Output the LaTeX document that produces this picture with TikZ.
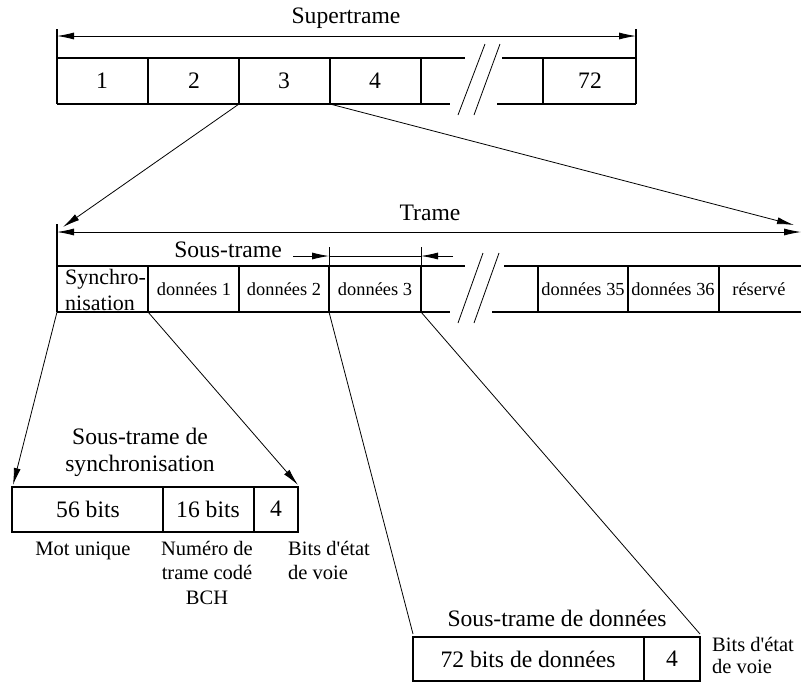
\documentclass[tikz,border=0pt]{standalone}
\usepackage{fontspec}
\setmainfont{Liberation Serif}
\usetikzlibrary{arrows.meta}
\begin{document}
\begin{tikzpicture}[x=1pt,y=-1pt,
		cadre/.style={line width=1.1pt},
		separ/.style={line width=1.7pt},
		lien/.style={line width=0.8pt},
		fleche/.style={-{Latex[length=17pt,width=7pt]},line width=0.8pt},
		dfleche/.style={{Latex[length=17pt,width=7pt]}-{Latex[length=17pt,width=7pt]},line width=0.8pt},
		grand/.style={inner sep=0pt,font=\fontsize{23.6}{27}\selectfont},
		petit/.style={inner sep=0pt,font=\fontsize{18.4}{20}\selectfont}]
			\useasboundingbox (0,0) rectangle (801,683);
			\clip (0,0) rectangle (801,683);
			%Supertrame
			\node[grand] (Sup) at (346,18) {Supertrame};
			\coordinate (SupG) at (57,36);
			\coordinate (SupD) at (636,36);
			\draw[dfleche] (SupG)--(SupD);
			\draw[cadre] (57,29)--(57,104);
			\draw[cadre] (636,29)--(636,104);
			\draw[cadre] (57,58)--(465,58) (502,58)--(636,58);
			\draw[cadre] (57,104)--(450,104) (497,104)--(636,104);
			\foreach \x in {148,239,330,421,543}
				\draw[separ] (\x,58)--(\x,104);
			\draw[lien] (485,44)--(458,115);
			\draw[lien] (500,44)--(474,115);
			\foreach \x/\lab [count=\i] in {102/1,194/2,284/3,375/4,590/72}
				\node[grand] (S\i) at (\x,81) {\lab};
			\coordinate (S3g) at (239,104);
			\coordinate (S3d) at (330,104);
			%Trame
			\node[grand] (Tr) at (430,213) {Trame};
			\coordinate (TrG) at (57,232);
			\coordinate (TrD) at (801,232);
			\draw[dfleche] (TrG)--(TrD);
			\draw[cadre] (57,224)--(57,312);
			\draw[cadre] (57,266)--(465,266) (504,266)--(801,266);
			\draw[cadre] (57,312)--(450,312) (492,312)--(801,312);
			\foreach \x in {148,239,329,421,538,628,719}
				\draw[separ] (\x,266)--(\x,312);
			\draw[lien] (483,253)--(458,323);
			\draw[lien] (499,253)--(474,323);
			\node[grand,align=left,anchor=west,font=\fontsize{22}{26}\selectfont] (T0) at (65,290) {Synchro-\\nisation};
			\foreach \x/\lab [count=\i] in {194/données 1,284/données 2,375/données 3,583/données 35,673/données 36,759/réservé}
				\node[petit] (T\i) at (\x,289) {\lab};
			\coordinate (TrA) at (63,227);
			\coordinate (TrB) at (794,225);
			\draw[fleche] (S3g)--(TrA);
			\draw[fleche] (S3d)--(TrB);
			%Sous-trame
			\node[grand] (ST) at (228,250) {Sous-trame};
			\coordinate (STa) at (293,256);
			\coordinate (STg) at (329,256);
			\coordinate (STd) at (421,256);
			\coordinate (STb) at (453,256);
			\draw[lien] (329,247)--(329,266);
			\draw[lien] (421,247)--(421,266);
			\draw[lien] (STg)--(STd);
			\draw[fleche] (STa)--(STg);
			\draw[fleche] (STb)--(STd);
			%Sous-trame de synchronisation
			\node[grand,align=center] (Sync) at (140,452) {Sous-trame de\\synchronisation};
			\draw[cadre] (12,487) rectangle (298,532);
			\draw[separ] (163,487)--(163,532);
			\draw[separ] (254,487)--(254,532);
			\node[grand] (M1) at (88,509) {56 bits};
			\node[grand] (M2) at (208,509) {16 bits};
			\node[grand] (M3) at (276,509) {4};
			\node[grand,font=\fontsize{20.5}{24.5}\selectfont] (L1) at (83,551) {Mot unique};
			\node[grand,align=center,anchor=north,font=\fontsize{20.5}{24.5}\selectfont] (L2) at (207,541) {Numéro de\\trame codé\\BCH};
			\node[grand,align=left,anchor=north west,font=\fontsize{20.5}{24.5}\selectfont] (L3) at (288,541) {Bits d\textquotesingle état\\de voie};
			\coordinate (T0g) at (57,312);
			\coordinate (T0d) at (148,312);
			\coordinate (SyG) at (13,485);
			\coordinate (SyD) at (298,485);
			\draw[fleche] (T0g)--(SyG);
			\draw[fleche] (T0d)--(SyD);
			%Sous-trame de données
			\node[grand] (Don) at (557,618) {Sous-trame de données};
			\draw[cadre] (413,637) rectangle (700,681);
			\draw[separ] (644,637)--(644,681);
			\node[grand] (D1) at (528,659) {72 bits de données};
			\node[grand] (D2) at (672,659) {4};
			\node[grand,align=left,anchor=north west,font=\fontsize{20.5}{22}\selectfont] (L4) at (712,637) {Bits d\textquotesingle état\\de voie};
			\coordinate (T3g) at (329,312);
			\coordinate (T3d) at (421,312);
			\coordinate (DoG) at (413,634);
			\coordinate (DoD) at (700,634);
			\draw[lien] (T3g)--(DoG);
			\draw[lien] (T3d)--(DoD);
		\end{tikzpicture}
\end{document}
